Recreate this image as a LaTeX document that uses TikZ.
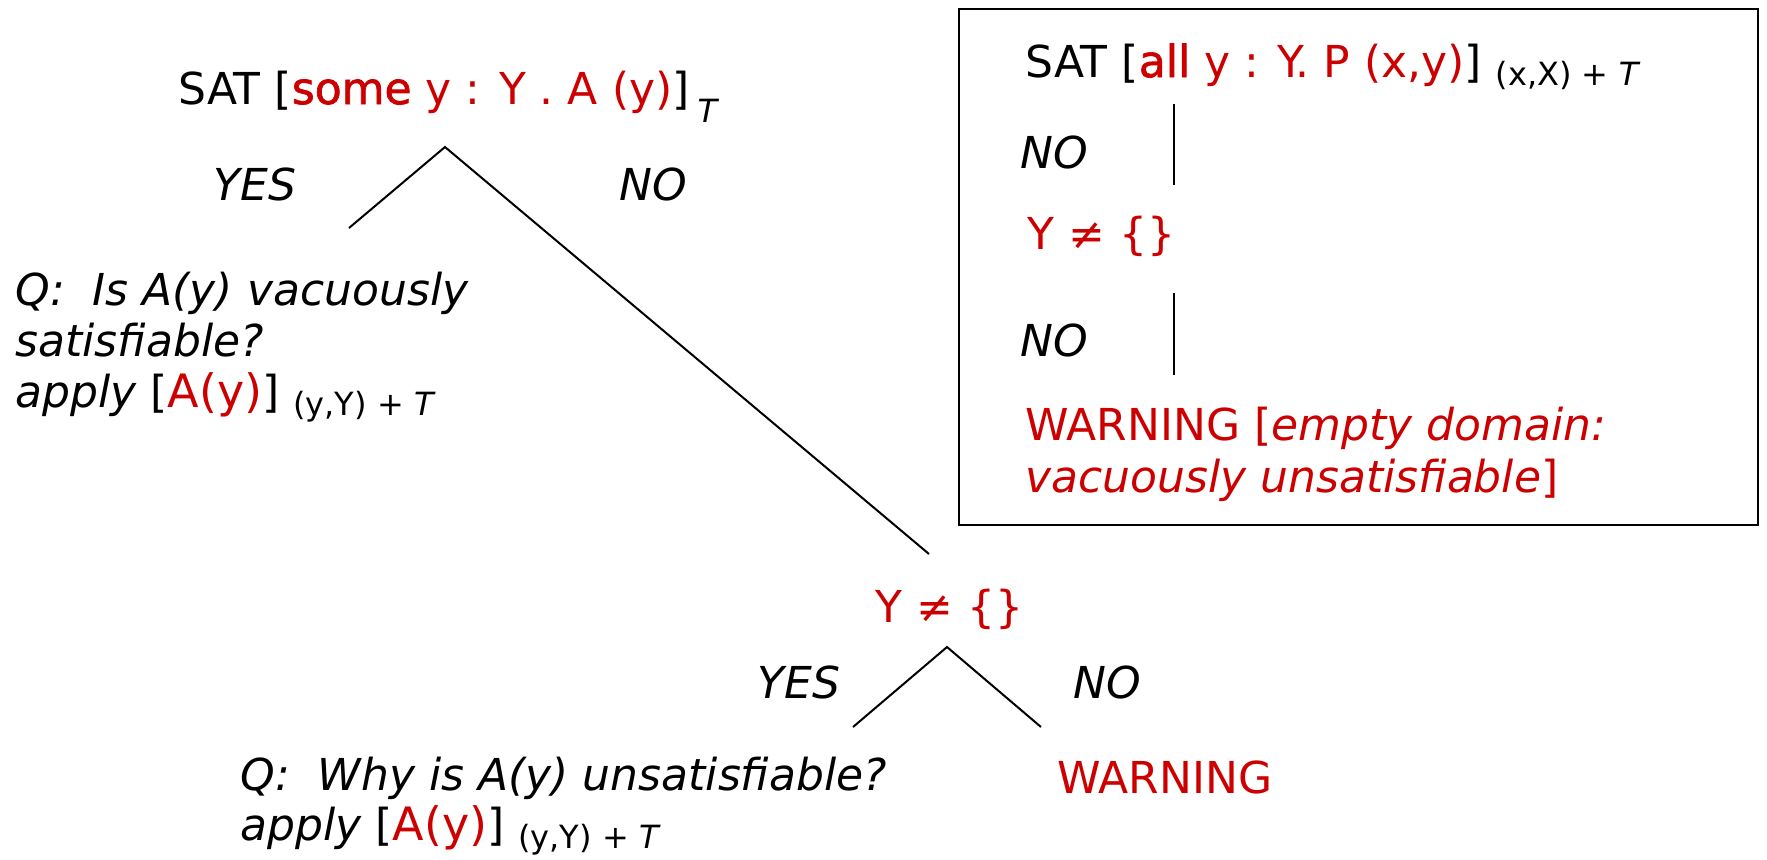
\documentclass[tikz,border=0pt]{standalone}
\usepackage{fontspec}
\setmainfont{DejaVu Sans}
\newfontfamily\heavyfont{DejaVu Sans}[FakeBold=1.6]
\usetikzlibrary{positioning}
\definecolor{satred}{RGB}{204,0,0}
\newcommand{\satcol}[1]{\textcolor{satred}{#1}}
\newcommand{\idx}[1]{\raisebox{-4pt}{\fontsize{16}{18}\selectfont #1}}
\newcommand{\quant}[1]{{\heavyfont #1}}
\tikzset{
    txt/.style={anchor=base west,inner sep=0pt,font=\fontsize{22}{26}\selectfont},
    ans/.style={txt,font=\fontsize{22}{26}\selectfont\itshape},
    warn/.style={txt,text=satred},
    branch/.style={line width=1pt,draw=black},
    frame/.style={draw=black,line width=1.2pt}
}

\begin{document}
\begin{tikzpicture}[x=0.5pt,y=-0.5pt]
  \useasboundingbox (0,0) rectangle (1767,859);

  % oberer Ausdruck
  \node[txt] (some) at (178,104) {SAT [\satcol{\quant{some} y : Y . A (y)}]\hspace{4pt}\raisebox{-5pt}{\idx{\textit{T}}}};
  \coordinate (fork1) at (445,147);
  \coordinate (yes1end) at (349,228);
  \coordinate (no1end) at (929,554);
  \draw[branch] (yes1end) -- (fork1) -- (no1end);
  \node[ans] (yes1) at (213,200) {YES};
  \node[ans] (no1) at (619,200) {NO};

  % linker Zweig
  \node[ans] (q1a) at (15,305) {Q:~~Is A(y) vacuously};
  \node[ans] (q1b) at (15,356) {satisfiable?};
  \node[ans] (q1c) at (15,407) {apply {\upshape[\satcol{\fontsize{23}{26}\selectfont A(y)}] \idx{(y,Y) + \textit{T}}}};

  % Kasten rechts
  \draw[frame] (959,9) rectangle (1758,525);
  \node[txt] (all) at (1025,77) {SAT [\satcol{\quant{all} y : Y. P (x,y)}] \idx{(x,X) + \textit{T}}};
  \coordinate (v1top) at (1174,104);
  \coordinate (v1bot) at (1174,185);
  \draw[branch] (v1top) -- (v1bot);
  \node[ans] (no2) at (1020,168) {NO};
  \node[warn] (ne1) at (1027,249) {Y ≠ \{\}};
  \coordinate (v2top) at (1174,293);
  \coordinate (v2bot) at (1174,375);
  \draw[branch] (v2top) -- (v2bot);
  \node[ans] (no3) at (1020,356) {NO};
  \node[warn] (w1a) at (1025,440) {WARNING [\textit{empty domain:}};
  \node[warn] (w1b) at (1025,492) {\textit{vacuously unsatisfiable}]};

  % unterer Test
  \node[warn] (ne2) at (875,622) {Y ≠ \{\}};
  \coordinate (fork2) at (947,647);
  \coordinate (yes2end) at (853,727);
  \coordinate (no2end) at (1041,727);
  \draw[branch] (yes2end) -- (fork2) -- (no2end);
  \node[ans] (yes2) at (757,698) {YES};
  \node[ans] (no4) at (1073,698) {NO};
  \node[warn] (w2) at (1057,793) {WARNING};
  \node[ans] (q2a) at (240,790) {Q:~~Why is A(y) unsatisfiable?};
  \node[ans] (q2b) at (240,840) {apply {\upshape[\satcol{\fontsize{23}{26}\selectfont A(y)}] \idx{(y,Y) + \textit{T}}}};
\end{tikzpicture}
\end{document}
